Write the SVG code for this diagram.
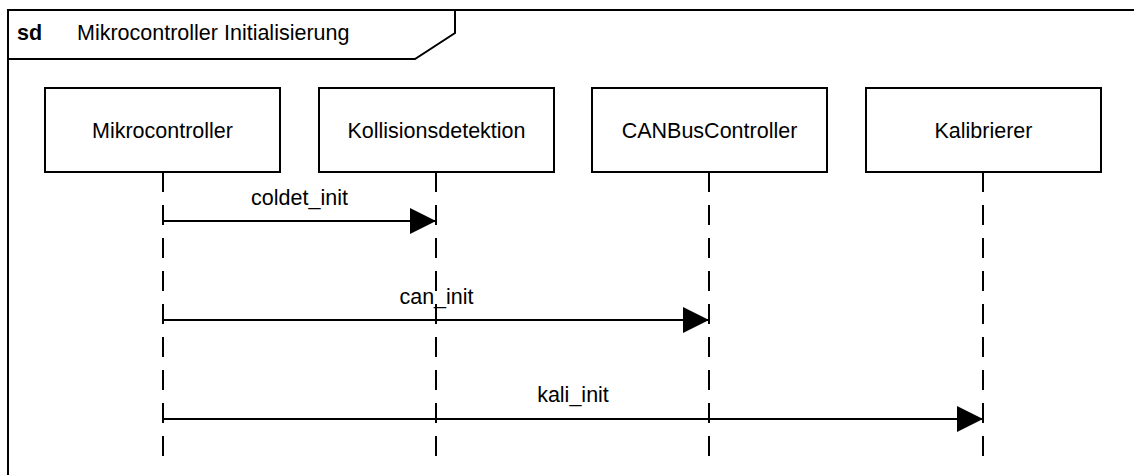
<svg xmlns="http://www.w3.org/2000/svg" width="1134" height="475" viewBox="0 0 1134 475">
  <style>
    text { font-family: "Liberation Sans", Arial, sans-serif; font-size: 21.5px; fill: #000; }
    .label { text-anchor: middle; }
    .title-kw { font-weight: bold; }
    .frame { fill: #fff; stroke: #000; stroke-width: 2; }
    .box { fill: #fff; stroke: #000; stroke-width: 2; }
    .lifeline { stroke: #000; stroke-width: 2; stroke-dasharray: 20 13; fill: none; }
    .msg { stroke: #000; stroke-width: 2; fill: none; marker-end: url(#arrow); }
  </style>
  <defs>
    <marker id="arrow" markerUnits="userSpaceOnUse" markerWidth="28" markerHeight="28" refX="26" refY="13" orient="auto">
      <path d="M0,0 L26,13 L0,26 Z" fill="#000"/>
    </marker>
  </defs>

  <rect width="1134" height="475" fill="#fff"/>

  <!-- sequence diagram frame with name tab -->
  <g id="frame">
    <rect class="frame" x="8" y="10" width="1140" height="480"/>
    <path d="M8,59 L415,59 L455,33 L455,10" fill="none" stroke="#000" stroke-width="2"/>
    <text class="title-kw" x="17" y="40">sd</text>
    <text x="77" y="40">Mikrocontroller Initialisierung</text>
  </g>

  <!-- lifelines -->
  <g id="lifelines">
    <line class="lifeline" x1="163" y1="172" x2="163" y2="456"/>
    <line class="lifeline" x1="436" y1="172" x2="436" y2="456"/>
    <line class="lifeline" x1="709" y1="172" x2="709" y2="456"/>
    <line class="lifeline" x1="983" y1="172" x2="983" y2="456"/>
  </g>

  <!-- participants -->
  <g id="mikrocontroller">
    <rect class="box" x="45" y="88" width="235" height="84"/>
    <text class="label" x="162.5" y="137.5">Mikrocontroller</text>
  </g>
  <g id="kollisionsdetektion">
    <rect class="box" x="319" y="88" width="235" height="84"/>
    <text class="label" x="436.5" y="137.5">Kollisionsdetektion</text>
  </g>
  <g id="canbuscontroller">
    <rect class="box" x="592" y="88" width="235" height="84"/>
    <text class="label" x="709.5" y="137.5">CANBusController</text>
  </g>
  <g id="kalibrierer">
    <rect class="box" x="866" y="88" width="235" height="84"/>
    <text class="label" x="983.5" y="137.5">Kalibrierer</text>
  </g>

  <!-- messages -->
  <g id="connectors">
    <line class="msg" x1="163" y1="221" x2="436" y2="221"/>
    <text class="label" x="299.5" y="205">coldet_init</text>
    <line class="msg" x1="163" y1="320" x2="709" y2="320"/>
    <text class="label" x="436.5" y="304">can_init</text>
    <line class="msg" x1="163" y1="419" x2="983" y2="419"/>
    <text class="label" x="573" y="402">kali_init</text>
  </g>
</svg>
